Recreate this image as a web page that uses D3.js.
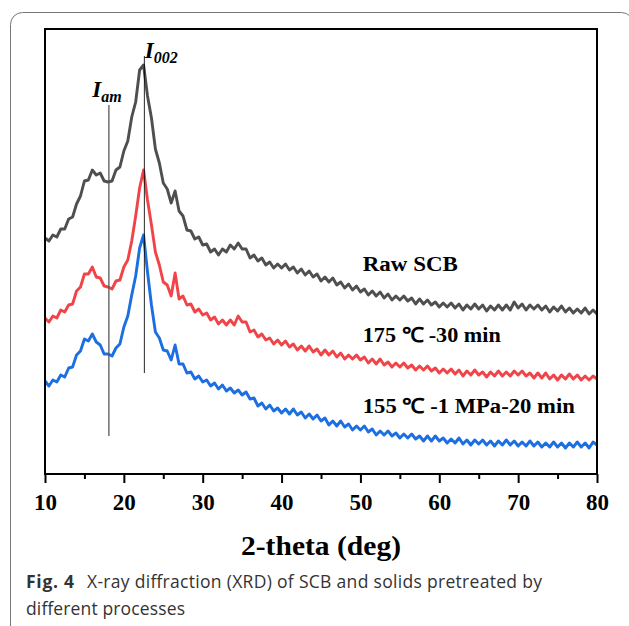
<!DOCTYPE html>
<html>
<head>
<meta charset="utf-8">
<script src="https://cdn.jsdelivr.net/npm/d3@7"></script>
<style>
  body { margin: 0; background: #fff; }
  svg { display: block; }
  .serif { font-family: "Liberation Serif", "Times New Roman", serif; font-weight: bold; }
  .caption { font-family: "Open Sans", "Noto Sans", sans-serif; fill: #333; }
</style>
</head>
<body>
<svg id="chart" width="629" height="626"></svg>
<script>
// 2-theta sampling grid of the scans (deg), 0.5 deg step
const twoTheta = d3.range(10, 80.001, 0.5);

// intensities (a.u.), one value per grid point
const rawSCB = [
  236,233,239,237,245,245,255,257,270,278,
  293,294,304,299,301,293,292,293,304,307,
  323,333,357,372,404,409,378,356,325,311,
  291,285,271,283,263,258,244,243,235,237,
  229,230,222,225,219,225,222,229,225,231,
  225,225,216,219,213,216,209,212,206,210,
  206,210,204,207,201,205,199,203,197,200,
  193,197,192,196,189,192,186,190,184,188,
  182,185,179,183,178,182,176,180,174,178,
  174,178,173,176,170,175,170,174,169,172,
  167,171,167,171,166,170,164,169,165,170,
  165,169,163,168,164,169,164,169,164,172,
  166,170,164,169,165,169,164,168,162,167,
  163,168,162,166,161,165,161,166,160,164,
  160
];
const t175 = [
  156,152,158,156,164,162,169,170,183,187,
  200,200,207,197,196,188,187,185,193,194,
  207,214,233,258,286,304,274,249,222,209,
  192,189,178,201,175,178,169,170,162,165,
  159,161,154,157,150,154,149,154,149,158,
  152,152,142,144,137,140,134,136,130,134,
  129,133,127,130,124,128,123,128,122,125,
  119,124,119,123,117,121,115,119,115,119,
  114,117,111,115,110,115,109,112,107,111,
  107,111,106,109,104,108,104,108,103,106,
  101,105,101,105,100,104,98,103,99,104,
  99,102,97,102,98,103,98,102,98,103,
  99,103,98,101,96,101,96,101,95,99,
  94,99,95,100,95,99,94,98,94,98,
  95
];
const t155 = [
  93,88,94,92,99,97,106,107,119,123,
  135,133,140,132,129,120,120,118,126,130,
  147,158,179,198,226,239,202,169,142,136,
  124,123,114,129,110,110,101,102,95,98,
  92,94,88,91,85,89,83,86,81,84,
  79,82,75,76,68,71,65,69,63,66,
  61,65,60,65,59,62,56,60,55,59,
  53,56,49,53,48,53,47,50,44,48,
  44,48,42,45,39,43,39,43,38,41,
  36,40,36,40,35,38,33,38,33,38,
  33,36,31,35,31,36,30,34,29,34,
  30,34,29,33,28,33,29,34,29,33,
  28,32,28,33,28,32,27,31,27,32,
  27,31,26,31,27,32,27,31,26,32,
  29
];

const seriesNames = ["Raw SCB", "175 ℃ -30 min", "155 ℃ -1 MPa-20 min"];
const seriesColors = ["#4f4f4f", "#f04448", "#1b6fe0"];
const seriesValues = [rawSCB, t175, t155];
const labelY = [203, 132, 61];       // label baseline intensity
const labelX = 50.3;                 // label start 2-theta
const labelLen = [95, 138, 212];     // label widths in the figure

// reference peak lines
const peakLines = [
  { name: "am", x: 18.1, top: 369, bottom: 38, color: "#555", width: 1.5 },
  { name: "002", x: 22.6, top: 418, bottom: 101, color: "#000", width: 1 }
];

const xTicks = [10, 20, 30, 40, 50, 60, 70, 80];
const xMinor = [15, 25, 35, 45, 55, 65, 75];

const svg = d3.select("#chart");
const margin = { top: 29, right: 32, bottom: 152, left: 45 };
const width = 629, height = 626;

// outer figure box
svg.append("rect")
  .attr("x", 10.5).attr("y", 12.5)
  .attr("width", 623).attr("height", 630)
  .attr("rx", 12)
  .attr("fill", "none")
  .attr("stroke", "#777")
  .attr("stroke-width", 1);

const x = d3.scaleLinear().domain([10, 80]).range([margin.left, width - margin.right]);
const y = d3.scaleLinear().domain([0, 445]).range([height - margin.bottom, margin.top]);

// curves
const line = d3.line().x(d => x(d[0])).y(d => y(d[1]));
seriesValues.forEach((vals, i) => {
  svg.append("path")
    .datum(twoTheta.map((t, j) => [t, vals[j]]))
    .attr("fill", "none")
    .attr("stroke", seriesColors[i])
    .attr("stroke-width", 2.9)
    .attr("stroke-linejoin", "round")
    .attr("d", line);
});

// peak position lines
peakLines.forEach(p => {
  svg.append("line")
    .attr("x1", x(p.x)).attr("x2", x(p.x))
    .attr("y1", y(p.top)).attr("y2", y(p.bottom))
    .attr("stroke", p.color)
    .attr("stroke-opacity", 0.85)
    .attr("stroke-width", p.width);
});

// I_am / I_002 labels
const pl = svg.append("g").attr("class", "serif").style("font-style", "italic");
let tAm = pl.append("text").attr("x", x(16.0)).attr("y", 97);
tAm.append("tspan").attr("font-size", 23).text("I");
tAm.append("tspan").attr("font-size", 16).attr("dy", 5).text("am");
let t002 = pl.append("text").attr("x", x(22.65)).attr("y", 58);
t002.append("tspan").attr("font-size", 23).text("I");
t002.append("tspan").attr("font-size", 16).attr("dy", 5).text("002");

// series labels
seriesNames.forEach((n, i) => {
  svg.append("text")
    .attr("class", "serif")
    .attr("x", x(labelX))
    .attr("y", y(labelY[i]))
    .attr("font-size", 20.5)
    .attr("textLength", labelLen[i])
    .attr("lengthAdjust", "spacingAndGlyphs")
    .text(n);
});

// frame
svg.append("rect")
  .attr("x", margin.left).attr("y", margin.top)
  .attr("width", width - margin.left - margin.right)
  .attr("height", height - margin.top - margin.bottom)
  .attr("fill", "none")
  .attr("stroke", "#000")
  .attr("stroke-width", 2);

// bottom axis
const gx = svg.append("g")
  .attr("transform", `translate(0,${height - margin.bottom})`)
  .call(d3.axisBottom(x).tickValues(xTicks).tickSize(9).tickPadding(11).tickFormat(d3.format("d")));
gx.select(".domain").remove();
gx.selectAll(".tick line").attr("stroke-width", 2);
gx.selectAll(".tick text")
  .attr("class", "serif")
  .attr("font-size", 23)
  .attr("fill", "#000");

svg.append("g")
  .attr("transform", `translate(0,${height - margin.bottom})`)
  .call(d3.axisBottom(x).tickValues(xMinor).tickSize(5).tickFormat(""))
  .call(g => g.select(".domain").remove())
  .selectAll(".tick line").attr("stroke-width", 2);

// axis title
svg.append("text")
  .attr("class", "serif")
  .attr("x", (margin.left + width - margin.right) / 2 - 80)
  .attr("y", 555)
  .attr("font-size", 28)
  .attr("textLength", 160)
  .attr("lengthAdjust", "spacingAndGlyphs")
  .text("2-theta (deg)");

// caption
svg.append("text").attr("class", "caption").attr("x", 26).attr("y", 588).attr("font-size", 17.5)
  .attr("font-weight", "bold").attr("textLength", 48).text("Fig. 4");
svg.append("text").attr("class", "caption").attr("x", 87).attr("y", 588).attr("font-size", 17.5)
  .attr("textLength", 455).text("X-ray diffraction (XRD) of SCB and solids pretreated by");
svg.append("text").attr("class", "caption").attr("x", 26).attr("y", 615).attr("font-size", 17.5)
  .attr("textLength", 159).text("different processes");
</script>
</body>
</html>
